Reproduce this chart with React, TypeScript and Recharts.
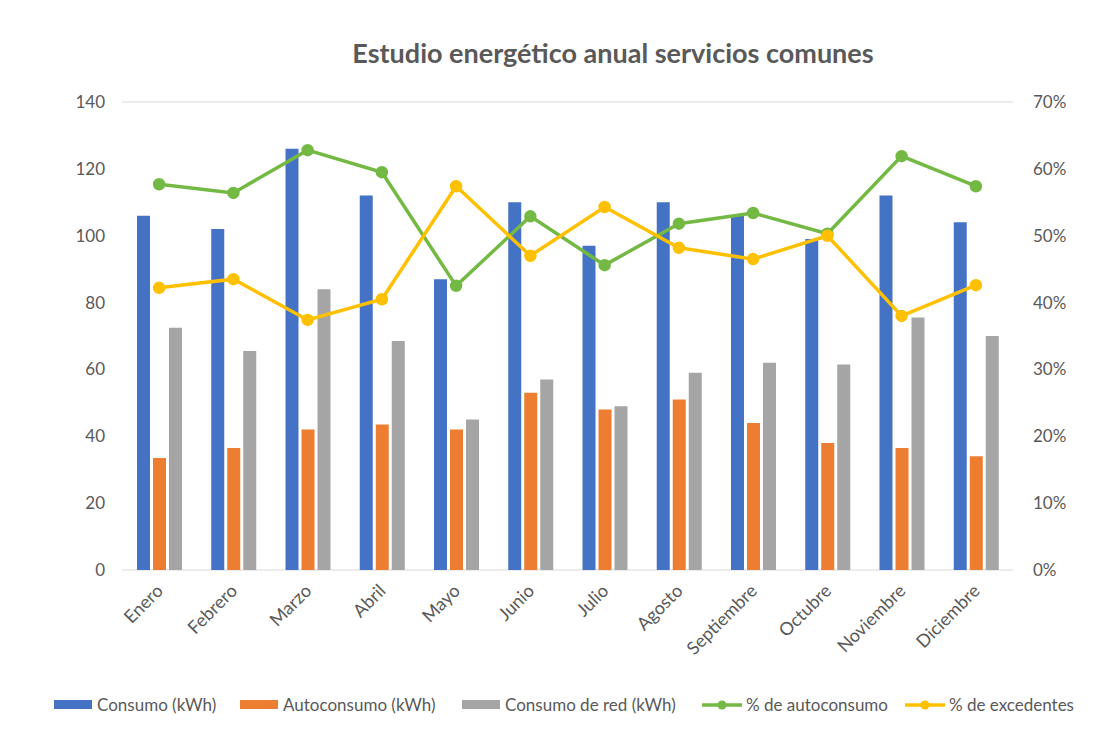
import { Bar, CartesianGrid, ComposedChart, Line, XAxis, YAxis } from "recharts";

const months = [
  "Enero", "Febrero", "Marzo", "Abril", "Mayo", "Junio",
  "Julio", "Agosto", "Septiembre", "Octubre", "Noviembre", "Diciembre",
];
const consumo = [106, 102, 126, 112, 87, 110, 97, 110, 106, 99, 112, 104];
const autoconsumo = [33.5, 36.5, 42, 43.5, 42, 53, 48, 51, 44, 38, 36.5, 34];
const consumoRed = [72.5, 65.5, 84, 68.5, 45, 57, 49, 59, 62, 61.5, 75.5, 70];
const pctAutoconsumo = [57.7, 56.4, 62.8, 59.5, 42.5, 52.9, 45.6, 51.8, 53.4, 50.3, 61.9, 57.4];
const pctExcedentes = [42.2, 43.5, 37.4, 40.5, 57.4, 47, 54.3, 48.2, 46.5, 50, 38, 42.6];
const leftTicks = [0, 20, 40, 60, 80, 100, 120, 140];
const rightTicks = [0, 10, 20, 30, 40, 50, 60, 70];

const data = months.map((m, i) => ({
  month: m,
  consumo: consumo[i],
  autoconsumo: autoconsumo[i],
  red: consumoRed[i],
  pctAuto: pctAutoconsumo[i],
  pctExc: pctExcedentes[i],
}));

const FONT = "Lato, 'Open Sans', sans-serif";
const TEXT = "#595959";
const BLUE = "#4472C4";
const ORANGE = "#ED7D31";
const GRAY = "#A5A5A5";
const GREEN = "#74B943";
const YELLOW = "#FFC000";

const MonthTick = (props: any) => {
  const { x, y, payload } = props;
  const ax = x + 5;
  const ay = y + 14;
  return (
    <text
      x={ax}
      y={ay}
      transform={`rotate(-45 ${ax} ${ay})`}
      textAnchor="end"
      fill={TEXT}
      fontSize={18}
      fontFamily={FONT}
    >
      {payload.value}
    </text>
  );
};

const legendItems = [
  { label: "Consumo (kWh)", color: BLUE, kind: "bar", left: 54 },
  { label: "Autoconsumo (kWh)", color: ORANGE, kind: "bar", left: 240 },
  { label: "Consumo de red (kWh)", color: GRAY, kind: "bar", left: 462 },
  { label: "% de autoconsumo", color: GREEN, kind: "line", left: 702 },
  { label: "% de excedentes", color: YELLOW, kind: "line", left: 905 },
];

export default function App() {
  return (
    <div
      style={{
        position: "absolute",
        left: 0,
        top: 0,
        width: 1113,
        height: 733,
        background: "#fff",
        fontFamily: FONT,
      }}
    >
      <div
        style={{
          position: "absolute",
          top: 36,
          left: 0,
          width: 1226,
          textAlign: "center",
          fontSize: 27,
          fontWeight: 700,
          color: TEXT,
        }}
      >
        Estudio energético anual servicios comunes
      </div>
      <ComposedChart
        width={1113}
        height={733}
        data={data}
        margin={{ top: 102, right: 40, bottom: 63, left: 72 }}
        barSize={13}
        barGap={3}
      >
        <CartesianGrid vertical={false} stroke="#D9D9D9" strokeWidth={1.2} />
        <XAxis
          dataKey="month"
          axisLine={false}
          tickLine={false}
          interval={0}
          height={100}
          tick={<MonthTick />}
        />
        <YAxis
          yAxisId="left"
          domain={[0, 140]}
          ticks={leftTicks}
          axisLine={false}
          tickLine={false}
          width={50}
          tickMargin={11}
          tick={{ fill: TEXT, fontSize: 17, fontFamily: FONT }}
        />
        <YAxis
          yAxisId="right"
          orientation="right"
          domain={[0, 70]}
          ticks={rightTicks}
          axisLine={false}
          tickLine={false}
          width={60}
          tickMargin={14}
          tickFormatter={(v) => `${v}%`}
          tick={{ fill: TEXT, fontSize: 17, fontFamily: FONT }}
        />
        <Bar yAxisId="left" dataKey="consumo" fill={BLUE} isAnimationActive={false} />
        <Bar yAxisId="left" dataKey="autoconsumo" fill={ORANGE} isAnimationActive={false} />
        <Bar yAxisId="left" dataKey="red" fill={GRAY} isAnimationActive={false} />
        <Line
          yAxisId="right"
          dataKey="pctAuto"
          stroke={GREEN}
          strokeWidth={3.5}
          dot={{ r: 4.5, fill: GREEN, stroke: GREEN }}
          isAnimationActive={false}
        />
        <Line
          yAxisId="right"
          dataKey="pctExc"
          stroke={YELLOW}
          strokeWidth={3.5}
          dot={{ r: 4.5, fill: YELLOW, stroke: YELLOW }}
          isAnimationActive={false}
        />
      </ComposedChart>
      {legendItems.map((it) => (
        <div
          key={it.label}
          style={{
            position: "absolute",
            left: it.left,
            top: 694,
            display: "flex",
            alignItems: "center",
            fontSize: 17,
            color: TEXT,
          }}
        >
          {it.kind === "bar" ? (
            <span style={{ width: 38, height: 9, background: it.color, marginRight: 5 }} />
          ) : (
            <svg width={40} height={12} style={{ marginRight: 4 }}>
              <line x1={0} y1={6} x2={40} y2={6} stroke={it.color} strokeWidth={3.5} />
              <circle cx={20} cy={6} r={4.5} fill={it.color} />
            </svg>
          )}
          {it.label}
        </div>
      ))}
    </div>
  );
}
